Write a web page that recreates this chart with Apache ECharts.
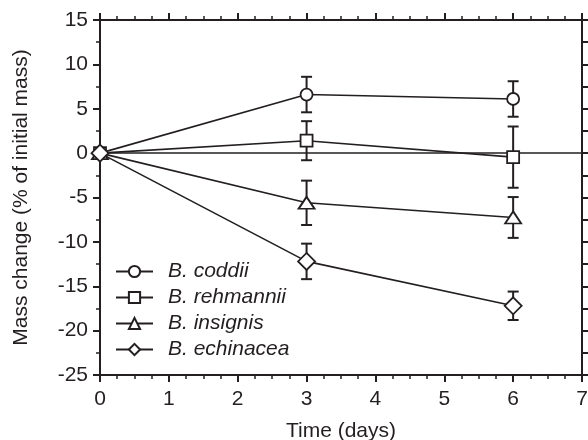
<!DOCTYPE html>
<html><head><meta charset="utf-8">
<script src="https://cdn.jsdelivr.net/npm/echarts@6/dist/echarts.min.js"></script>
<style>html,body{margin:0;padding:0;background:#fff}#c{width:588px;height:440px}</style>
</head><body><div id="c"></div>
<script>
const days = [0, 3, 6];
const seriesNames = ['B. coddii', 'B. rehmannii', 'B. insignis', 'B. echinacea'];
const coddii = [0, 6.6, 6.1];
const coddiiErr = [0, 2.0, 2.0];
const rehmannii = [0, 1.4, -0.45];
const rehmanniiErr = [0, 2.2, 3.45];
const insignis = [0, -5.6, -7.25];
const insignisErr = [0, 2.5, 2.3];
const echinacea = [0, -12.2, -17.2];
const echinaceaErr = [0, 2.0, 1.6];
const zeroLine = 0;
const xName = 'Time (days)';
const yName = 'Mass change (% of initial mass)';

const ink = '#231f20';
const font = 'Liberation Sans, Arial, sans-serif';
const means = [coddii, rehmannii, insignis, echinacea];
const errs = [coddiiErr, rehmanniiErr, insignisErr, echinaceaErr];
const symbols = ['circle', 'rect', 'triangle', 'diamond'];
const sizes = [12, 12, [16, 12], [17, 17]];

const chart = echarts.init(document.getElementById('c'), null, {renderer: 'canvas'});

function errData(m, e) {
  const out = [];
  for (let i = 0; i < days.length; i++) {
    if (e[i] > 0) out.push([days[i], m[i] - e[i], m[i] + e[i]]);
  }
  return out;
}

const series = [];
means.forEach((m, k) => {
  series.push({
    type: 'custom',
    name: seriesNames[k] + ' err',
    z: 1,
    data: errData(m, errs[k]),
    renderItem(params, api) {
      const x = api.value(0), lo = api.value(1), hi = api.value(2);
      const t = api.coord([x, hi]), b = api.coord([x, lo]);
      const w = 5.5;
      const st = {stroke: ink, lineWidth: 2};
      return {type: 'group', children: [
        {type: 'line', shape: {x1: t[0], y1: t[1], x2: b[0], y2: b[1]}, style: st},
        {type: 'line', shape: {x1: t[0] - w, y1: t[1], x2: t[0] + w, y2: t[1]}, style: st},
        {type: 'line', shape: {x1: b[0] - w, y1: b[1], x2: b[0] + w, y2: b[1]}, style: st}
      ]};
    }
  });
});
means.forEach((m, k) => {
  const s = {
    type: 'line',
    name: seriesNames[k],
    z: 3,
    data: days.map((d, i) => [d, m[i]]),
    symbol: symbols[k],
    symbolSize: sizes[k],
    showAllSymbol: true,
    lineStyle: {color: ink, width: 1.6},
    itemStyle: {color: '#fff', borderColor: ink, borderWidth: 1.8},
    emphasis: {disabled: true},
    animation: false
  };
  if (k === 0) {
    s.markLine = {
      silent: true, symbol: 'none', label: {show: false},
      lineStyle: {color: ink, width: 1.6, type: 'solid'},
      data: [{yAxis: zeroLine}],
      z: 2
    };
  }
  series.push(s);
});

const axisLine = {show: true, onZero: false, lineStyle: {color: ink, width: 2}};
const labelStyle = {color: ink, fontFamily: font, fontSize: 21};
const majorTick = {show: true, length: 7, lineStyle: {color: ink, width: 2}};

chart.setOption({
  animation: false,
  backgroundColor: '#fff',
  grid: {left: 100, right: 6, top: 20, bottom: 65, containLabel: false, outerBoundsMode: 'none'},
  legend: {
    data: seriesNames,
    orient: 'vertical',
    left: 110, top: 256,
    itemWidth: 37, itemHeight: 14, itemGap: 5,
    selectedMode: false,
    textStyle: {color: ink, fontFamily: font, fontSize: 21, fontStyle: 'italic', lineHeight: 21, padding: [0, 0, 0, 10]}
  },
  xAxis: [{
    type: 'value', min: 0, max: 7, interval: 1, position: 'bottom',
    axisLine, splitLine: {show: false},
    axisTick: majorTick,
    minorTick: {show: true, splitNumber: 4, length: 4, lineStyle: {color: ink, width: 1.5}},
    axisLabel: Object.assign({margin: 14}, labelStyle),
    name: xName, nameLocation: 'middle', nameGap: 46,
    nameTextStyle: labelStyle
  }, {
    type: 'value', min: 0, max: 7, interval: 1, position: 'top',
    axisLine, splitLine: {show: false},
    axisTick: majorTick,
    minorTick: {show: true, splitNumber: 4, length: 4, lineStyle: {color: ink, width: 1.5}},
    axisLabel: {show: false}
  }],
  yAxis: [{
    type: 'value', min: -25, max: 15, interval: 5, position: 'left',
    axisLine, splitLine: {show: false},
    axisTick: majorTick,
    minorTick: {show: true, splitNumber: 2, length: 4, lineStyle: {color: ink, width: 1.5}},
    axisLabel: Object.assign({margin: 12}, labelStyle),
    name: yName, nameLocation: 'middle', nameGap: 68,
    nameTextStyle: labelStyle
  }, {
    type: 'value', min: -25, max: 15, interval: 2.5, position: 'right',
    axisLine, splitLine: {show: false},
    axisTick: majorTick,
    axisLabel: {show: false}
  }],
  series
});
</script>
</body></html>
